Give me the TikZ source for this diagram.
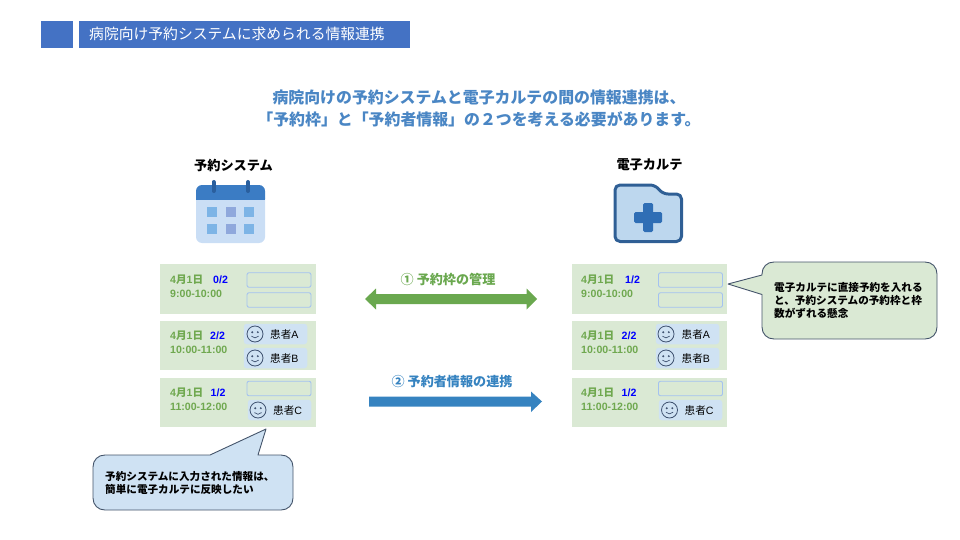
\documentclass[tikz,border=0pt]{standalone}
\usepackage{fontspec}
\setmainfont{Noto Sans CJK JP}
\newfontfamily\lat{Liberation Sans}
\definecolor{hdrblue}{HTML}{4472C4}
\definecolor{headtxt}{HTML}{4A86C4}
\definecolor{rowgreen}{HTML}{DAE9D4}
\definecolor{txtgreen}{HTML}{6FA84F}
\definecolor{slotline}{HTML}{A4C2F0}
\definecolor{chipblue}{HTML}{CFE2F3}
\definecolor{facecol}{HTML}{3F5270}
\definecolor{calldark}{HTML}{44546A}
\definecolor{arrowblue}{HTML}{3683C0}
\definecolor{arrowgreen}{HTML}{6AA84F}
\definecolor{caldark}{HTML}{3B7CC4}
\definecolor{calbody}{HTML}{CADEF5}
\definecolor{calring}{HTML}{2A5F9E}
\definecolor{calsqa}{HTML}{7DB4E6}
\definecolor{calsqb}{HTML}{8FA8DC}
\definecolor{folderline}{HTML}{2F5F95}
\definecolor{folderfill}{HTML}{BDD7EE}
\definecolor{plusblue}{HTML}{2F6EB5}
\tikzset{
  x=1pt,y=-1pt,
  rowbox/.style={fill=rowgreen,draw=none,inner sep=0,minimum width=155.5,minimum height=49.5},
  slotbox/.style={fill=rowgreen,draw=slotline,line width=0.9,rounded corners=2,inner sep=0,minimum width=64,minimum height=14.5},
  chipbox/.style={fill=chipblue,draw=none,rounded corners=3,inner sep=0,minimum width=63.5,minimum height=20.5},
  rowtxt/.style={anchor=west,inner sep=0,text=txtgreen,font=\fontsize{10.6}{12}\bfseries},
  frac/.style={anchor=west,inner sep=0,text=blue,font=\fontsize{10.6}{12}\lat\bfseries},
  chiptxt/.style={anchor=west,inner sep=0,text=black,font=\fontsize{10.6}{12}\selectfont},
  facering/.style={draw=facecol,line width=0.8,fill=none},
  calltxt/.style={anchor=west,inner sep=0,align=left,text=black,font=\fontsize{10.6}{13.4}\bfseries},
  callshape/.style={draw=calldark,line width=0.9,line join=round},
  headtext/.style={inner sep=0,align=center,text=headtxt,font=\fontsize{15.9}{22}\bfseries},
  systitle/.style={inner sep=0,text=black,font=\fontsize{13.2}{16}\bfseries},
  flowlabel/.style={inner sep=0,font=\fontsize{13.1}{15}\bfseries},
}
\newcommand{\dateline}[1]{{\lat 4}月{\lat 1}日}
\newcommand{\rowtexts}[6]{% name, x, y, frac x, frac, time
  \node[rowtxt] (#1d) at (#2,#3) {\dateline{}};
  \node[frac] (#1f) at (#4,#3) {#5};
  \node[rowtxt,font=\fontsize{10.6}{12}\lat\bfseries] (#1t) at (#2,#3+14) {#6};
}
\newcommand{\smileface}[3]{% x,y,mouth
  \draw[facering] (#1,#2) circle[radius=8];
  \fill[facecol] (#1-2.8,#2-1.8) circle[radius=1.1] (#1+2.8,#2-1.8) circle[radius=1.1];
  \draw[facering,line width=0.7] (#1-3.6,#2+#3) .. controls (#1-1.5,#2+#3+2.2) and (#1+1.5,#2+#3+2.2) .. (#1+3.6,#2+#3);
}
\newcommand{\chip}[6]{% name,cx,cy,facex,label,textx
  \node[chipbox] (#1) at (#2,#3) {};
  \smileface{#4}{#3}{2.2}
  \node[chiptxt] (#1t) at (#6,#3) {患者{\lat #5}};
}
\begin{document}
\begin{tikzpicture}
\useasboundingbox (0,0) rectangle (960,540);
% header
\node[fill=hdrblue,inner sep=0,minimum width=32,minimum height=27] (hsq) at (57,34.5) {};
\node[fill=hdrblue,inner sep=0,minimum width=331,minimum height=27] (hbar) at (244.5,34.5) {};
\node[anchor=west,inner sep=0,text=white,font=\fontsize{14.8}{16}\selectfont] (htxt) at (89,34) {病院向け予約システムに求められる情報連携};
% headline
\node[headtext] (head) at (479,108) {病院向けの予約システムと電子カルテの間の情報連携は、\\「予約枠」と「予約者情報」の２つを考える必要があります。};
% column titles
\node[systitle] (tl) at (233.5,165) {予約システム};
\node[systitle] (tr) at (649.5,165) {電子カルテ};
% calendar icon
\fill[calbody,rounded corners=6] (196,192) rectangle (265,243);
\fill[caldark,rounded corners=6] (196,185) rectangle (265,205);
\fill[calbody] (196,200) rectangle (265,206);
\foreach \rx in {213.5,248}{\draw[calring,line width=4,line cap=round] (\rx,182) -- (\rx,191);}
\foreach \sx/\sc in {207/calsqa,225.7/calsqb,244.3/calsqa}{
  \fill[\sc] (\sx,207) rectangle ++(10,10);
  \fill[\sc] (\sx,224) rectangle ++(10,10);
}
% folder icon
\draw[folderline,fill=folderfill,line width=3,line join=round,rounded corners=5]
  (615,185) -- (655,185) -- (663,194) -- (681.5,194) -- (681.5,241.5) -- (615,241.5) -- cycle;
\fill[plusblue,rounded corners=1.5] (643,203) rectangle (653,232);
\fill[plusblue,rounded corners=1.5] (634,212) rectangle (662,223);
% left rows
\node[rowbox] (l1) at (238,289) {};
\node[rowbox] (l2) at (238,345.5) {};
\node[rowbox] (l3) at (238,402.5) {};
\rowtexts{la}{170}{279.5}{213}{0/2}{9:00-10:00}
\rowtexts{lb}{170}{336}{210}{2/2}{10:00-11:00}
\rowtexts{lc}{170}{393}{210.5}{1/2}{11:00-12:00}
\node[slotbox] (ls1) at (279,280) {};
\node[slotbox] (ls2) at (279,300) {};
\node[slotbox] (ls3) at (279,388.5) {};
\chip{lca}{275.5}{334}{255}{A}{270}
\chip{lcb}{275.5}{358}{255}{B}{270}
\node[chipbox] (lcc) at (279.5,410) {};
\smileface{258}{410}{2.6}
\node[chiptxt] (lcct) at (273,410) {患者{\lat C}};
% right rows
\node[rowbox] (r1) at (649.5,289) {};
\node[rowbox] (r2) at (649.5,345.5) {};
\node[rowbox] (r3) at (649.5,402.5) {};
\rowtexts{ra}{581}{279.5}{625}{1/2}{9:00-10:00}
\rowtexts{rb}{581}{336}{621.5}{2/2}{10:00-11:00}
\rowtexts{rc}{581}{393}{621.5}{1/2}{11:00-12:00}
\node[slotbox] (rs1) at (690.5,280) {};
\node[slotbox] (rs2) at (690.5,300) {};
\node[slotbox] (rs3) at (690.5,388.5) {};
\chip{rca}{687.5}{334}{666}{A}{681.5}
\chip{rcb}{687.5}{358}{666}{B}{681.5}
\node[chipbox] (rcc) at (690.5,410) {};
\smileface{669.5}{410}{2.2}
\node[chiptxt] (rcct) at (684.5,410) {患者{\lat C}};
% block arrows
\node[flowlabel,text=arrowgreen] (fl1) at (448,279) {① 予約枠の管理};
\fill[arrowgreen] (365,299) -- (376,288.5) -- (376,294) -- (526.5,294) -- (526.5,288.5) -- (537,299) -- (526.5,309.5) -- (526.5,304) -- (376,304) -- (376,309.5) -- cycle;
\node[flowlabel,text=arrowblue] (fl2) at (452,381.5) {② 予約者情報の連携};
\fill[arrowblue] (369,396.5) -- (531,396.5) -- (531,391.5) -- (542,401.5) -- (531,412) -- (531,406.5) -- (369,406.5) -- cycle;
% right callout
\draw[callshape,fill=rowgreen]
  (774,262) -- (925,262) .. controls (932,262) and (937,267) .. (937,274)
  -- (937,327) .. controls (937,334) and (932,339) .. (925,339)
  -- (774,339) .. controls (767,339) and (762,334) .. (762,327)
  -- (762,294.5) -- (728,284) -- (762,275)
  -- (762,274) .. controls (762,267) and (767,262) .. (774,262) -- cycle;
\node[calltxt] (ctr) at (774,300.5) {電子カルテに直接予約を入れる\\と、予約システムの予約枠と枠\\数がずれる懸念};
% left callout
\draw[callshape,fill=chipblue]
  (105,455) -- (210,455) -- (266,429) -- (258,455) -- (281,455)
  .. controls (288,455) and (293,460) .. (293,467)
  -- (293,498) .. controls (293,505) and (288,510) .. (281,510)
  -- (105,510) .. controls (98,510) and (93,505) .. (93,498)
  -- (93,467) .. controls (93,460) and (98,455) .. (105,455) -- cycle;
\node[calltxt,font=\fontsize{10.6}{12.8}\bfseries] (ctl) at (105,483) {予約システムに入力された情報は、\\簡単に電子カルテに反映したい};
\end{tikzpicture}
\end{document}
